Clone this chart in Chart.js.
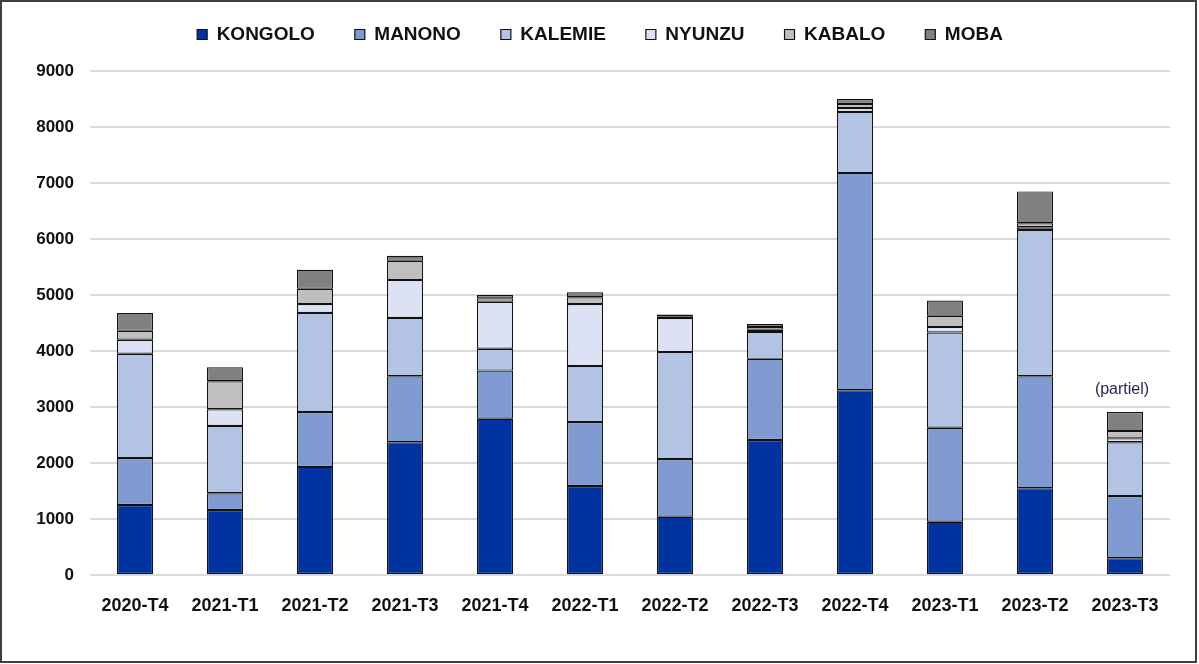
<!DOCTYPE html>
<html>
<head>
<meta charset="utf-8">
<script src="https://cdn.jsdelivr.net/npm/chart.js@4"></script>
<style>
    body { margin: 0; background: #ffffff; }
    #wrap { width: 1199px; height: 664px; }
</style>
</head>
<body>
<div id="wrap"><canvas id="chart" width="1199" height="664"></canvas></div>
<script>
const periods = ['2020-T4', '2021-T1', '2021-T2', '2021-T3', '2021-T4', '2022-T1',
    '2022-T2', '2022-T3', '2022-T4', '2023-T1', '2023-T2', '2023-T3'];

const kongolo = [1250, 1160, 1930, 2370, 2790, 1590, 1040, 2410, 3300, 950, 1550, 300];
const manono = [840, 300, 980, 1180, 860, 1140, 1030, 1450, 3880, 1680, 2000, 1110];
const kalemie = [1860, 1200, 1770, 1040, 390, 1000, 1910, 480, 1090, 1700, 2610, 960];
const nyunzu = [250, 300, 160, 680, 840, 1110, 610, 40, 70, 100, 50, 70];
const kabalo = [160, 500, 270, 340, 60, 120, 20, 50, 70, 200, 70, 130];
const moba = [320, 250, 340, 90, 60, 90, 40, 50, 90, 270, 570, 340];

const yTicks = [0, 1000, 2000, 3000, 4000, 5000, 6000, 7000, 8000, 9000];
const note = '(partiel)';

const colors = {
    kongolo: '#0033A0',
    manono: '#7F9AD0',
    kalemie: '#B3C3E3',
    nyunzu: '#DCE2F3',
    kabalo: '#BFBFBF',
    moba: '#808080'
};

const fontFamily = '"Liberation Sans", Arial, sans-serif';

const makeSet = (label, data, color) => ({
    label: label,
    data: data,
    backgroundColor: color,
    borderColor: '#111111',
    borderWidth: 1.2,
    borderSkipped: false,
    categoryPercentage: 1,
    barPercentage: 0.4
});

// white page + thin frame round the picture
const framePlugin = {
    id: 'frame',
    beforeDraw(chart) {
        const ctx = chart.ctx;
        ctx.save();
        ctx.fillStyle = '#ffffff';
        ctx.fillRect(0, 0, chart.width, chart.height);
        ctx.restore();
        // legend sits a bit higher and more to the right than chart.js puts it
        chart.legend.top = -15;
        chart.legend.left = 15;
        chart.legend.right = 1185;
    },
    afterDraw(chart) {
        const ctx = chart.ctx;
        ctx.save();
        ctx.strokeStyle = '#404040';
        ctx.lineWidth = 2;
        ctx.strokeRect(1, 1, chart.width - 4, chart.height - 3);
        ctx.restore();
    }
};

// fixed legend height so the plot area starts where the original does
const legendHeight = {
    id: 'legendHeight',
    beforeInit(chart) {
        const fit = chart.legend.fit;
        chart.legend.fit = function () {
            fit.call(this);
            this.height = 71;
        };
    }
};

// "(partiel)" above the last column
const notePlugin = {
    id: 'note',
    afterDatasetsDraw(chart) {
        const last = periods.length - 1;
        let total = 0;
        chart.data.datasets.forEach(ds => { total += ds.data[last]; });
        const x = chart.scales.x.getPixelForValue(last);
        const y = chart.scales.y.getPixelForValue(total);
        const ctx = chart.ctx;
        ctx.save();
        ctx.font = '16px "Liberation Sans", sans-serif';
        ctx.fillStyle = '#1F2450';
        ctx.textAlign = 'center';
        ctx.textBaseline = 'middle';
        ctx.fillText(note, x - 3, y - 22);
        ctx.restore();
    }
};

new Chart(document.getElementById('chart'), {
    type: 'bar',
    data: {
        labels: periods,
        datasets: [
            makeSet('KONGOLO', kongolo, colors.kongolo),
            makeSet('MANONO', manono, colors.manono),
            makeSet('KALEMIE', kalemie, colors.kalemie),
            makeSet('NYUNZU', nyunzu, colors.nyunzu),
            makeSet('KABALO', kabalo, colors.kabalo),
            makeSet('MOBA', moba, colors.moba)
        ]
    },
    options: {
        responsive: false,
        animation: false,
        layout: { padding: { left: 0, right: 29, top: 0, bottom: 0 } },
        plugins: {
            legend: {
                position: 'top',
                labels: {
                    boxWidth: 10,
                    boxHeight: 10,
                    padding: 40,
                    color: '#111111',
                    font: { family: fontFamily, size: 19, weight: 'bold' }
                }
            },
            tooltip: { enabled: false }
        },
        scales: {
            x: {
                stacked: true,
                grid: { display: false, drawTicks: false },
                border: { display: false },
                ticks: {
                    padding: 20,
                    color: '#111111',
                    font: { family: fontFamily, size: 18, weight: 'bold' }
                },
                afterFit: s => { s.height = 89; }
            },
            y: {
                stacked: true,
                min: 0,
                max: 9000,
                afterBuildTicks: s => { s.ticks = yTicks.map(v => ({ value: v })); },
                grid: { color: '#DADADA', lineWidth: 2, drawTicks: false },
                border: { display: false },
                ticks: {
                    padding: 16,
                    color: '#111111',
                    font: { family: fontFamily, size: 17, weight: 'bold' },
                    callback: v => String(v)
                },
                afterFit: s => { s.width = 90; }
            }
        }
    },
    plugins: [legendHeight, framePlugin, notePlugin]
});
</script>
</body>
</html>
